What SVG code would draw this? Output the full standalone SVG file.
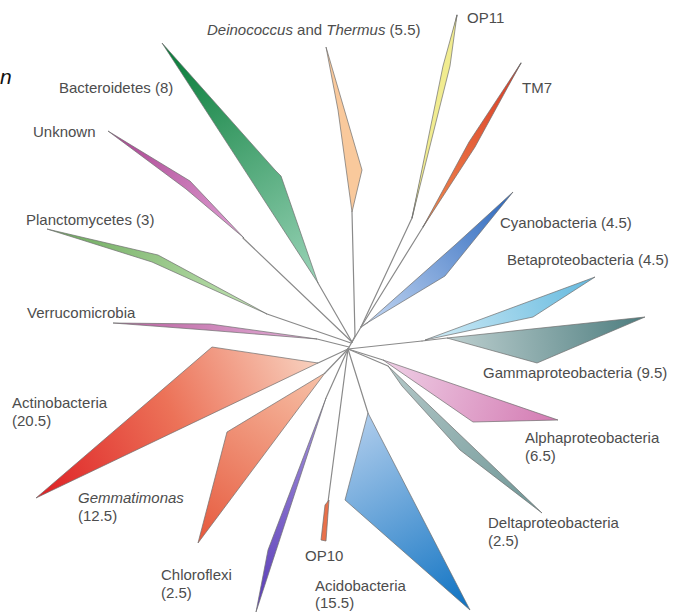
<svg xmlns="http://www.w3.org/2000/svg" width="674" height="615" viewBox="0 0 674 615">
<style>
.lbl{font-family:"Liberation Sans",Arial,sans-serif;font-size:15px;fill:#4d4d4d}
.it{font-style:italic}
.br{fill:none;stroke:#8a8a8a;stroke-width:1.2;stroke-linecap:round}
.wd{stroke:#6f6f6f;stroke-width:0.7;stroke-linejoin:round}
</style>
<defs>
<linearGradient id="gAct" gradientUnits="userSpaceOnUse" x1="40" y1="495" x2="318" y2="360"><stop offset="0" stop-color="#de2226"/><stop offset="0.5" stop-color="#ec7258"/><stop offset="1" stop-color="#f8d2c0"/></linearGradient>
<linearGradient id="gGem" gradientUnits="userSpaceOnUse" x1="198" y1="543" x2="325" y2="373"><stop offset="0" stop-color="#e6583c"/><stop offset="1" stop-color="#f7c2a8"/></linearGradient>
<linearGradient id="gChl" gradientUnits="userSpaceOnUse" x1="256" y1="612" x2="326" y2="398"><stop offset="0" stop-color="#5a3cb8"/><stop offset="1" stop-color="#a796dc"/></linearGradient>
<linearGradient id="gAci" gradientUnits="userSpaceOnUse" x1="470" y1="610" x2="360" y2="415"><stop offset="0" stop-color="#0e72c2"/><stop offset="1" stop-color="#b0cdec"/></linearGradient>
<linearGradient id="gDel" gradientUnits="userSpaceOnUse" x1="542" y1="513" x2="388" y2="366"><stop offset="0" stop-color="#6e9696"/><stop offset="1" stop-color="#b4c8c8"/></linearGradient>
<linearGradient id="gAlp" gradientUnits="userSpaceOnUse" x1="558" y1="420" x2="383" y2="360"><stop offset="0" stop-color="#d37ab2"/><stop offset="1" stop-color="#efd0e6"/></linearGradient>
<linearGradient id="gGam" gradientUnits="userSpaceOnUse" x1="645" y1="317" x2="447" y2="338"><stop offset="0" stop-color="#4c7c7e"/><stop offset="1" stop-color="#bed0d0"/></linearGradient>
<linearGradient id="gBet" gradientUnits="userSpaceOnUse" x1="595" y1="277" x2="425" y2="340"><stop offset="0" stop-color="#62b8de"/><stop offset="1" stop-color="#d2ecf6"/></linearGradient>
<linearGradient id="gCya" gradientUnits="userSpaceOnUse" x1="513" y1="192" x2="367" y2="323"><stop offset="0" stop-color="#2a66bc"/><stop offset="1" stop-color="#c2d6f2"/></linearGradient>
<linearGradient id="gTM7" gradientUnits="userSpaceOnUse" x1="521" y1="63" x2="423" y2="227"><stop offset="0" stop-color="#d93a26"/><stop offset="1" stop-color="#f08a50"/></linearGradient>
<linearGradient id="gBac" gradientUnits="userSpaceOnUse" x1="162" y1="43" x2="318" y2="283"><stop offset="0" stop-color="#047a36"/><stop offset="1" stop-color="#9ad4b8"/></linearGradient>
<linearGradient id="gUnk" gradientUnits="userSpaceOnUse" x1="108" y1="131" x2="244" y2="238"><stop offset="0" stop-color="#a8418f"/><stop offset="1" stop-color="#e0a0d4"/></linearGradient>
<linearGradient id="gPla" gradientUnits="userSpaceOnUse" x1="47" y1="229" x2="267" y2="314"><stop offset="0" stop-color="#6aa85a"/><stop offset="1" stop-color="#c6e6b8"/></linearGradient>
<linearGradient id="gVer" gradientUnits="userSpaceOnUse" x1="113" y1="323" x2="317" y2="339"><stop offset="0" stop-color="#b8609e"/><stop offset="1" stop-color="#e4b0d8"/></linearGradient>
</defs>

<text x="0" y="84" font-family="Liberation Sans, Arial, sans-serif" font-size="21" font-style="italic" fill="#111">n</text>

<g id="connectors">
<line class="br" x1="352" y1="342" x2="348" y2="349"/>
<line class="br" x1="318" y1="283" x2="352" y2="342"/>
<line class="br" x1="243" y1="238" x2="352" y2="342"/>
<line class="br" x1="267" y1="314" x2="351" y2="343"/>
<line class="br" x1="317" y1="339" x2="349" y2="347"/>
<line class="br" x1="352" y1="212" x2="355" y2="336"/>
<line class="br" x1="355" y1="336" x2="352" y2="342"/>
<line class="br" x1="457" y1="15" x2="412" y2="218"/>
<line class="br" x1="412" y1="218" x2="361" y2="327"/>
<line class="br" x1="521" y1="63" x2="423" y2="227"/>
<line class="br" x1="423" y1="227" x2="361" y2="327"/>
<line class="br" x1="367" y1="323" x2="361" y2="327"/>
<line class="br" x1="361" y1="327" x2="352" y2="342"/>
<line class="br" x1="348" y1="349" x2="422" y2="341"/>
<line class="br" x1="422" y1="341" x2="447" y2="338"/>
<line class="br" x1="348" y1="349" x2="383" y2="360"/>
<line class="br" x1="348" y1="349" x2="388" y2="366"/>
<line class="br" x1="348" y1="349" x2="368" y2="413"/>
<line class="br" x1="348" y1="349" x2="328" y2="502"/>
<line class="br" x1="348" y1="349" x2="326" y2="398"/>
<line class="br" x1="348" y1="349" x2="325" y2="373"/>
<line class="br" x1="348" y1="349" x2="318" y2="363"/>
</g>

<g id="bacteroidetes"><polygon class="wd" fill="url(#gBac)" points="162,43 275,170 281,176 318,283"/><text class="lbl" x="59" y="93">Bacteroidetes (8)</text></g>
<g id="unknown"><polygon class="wd" fill="url(#gUnk)" points="108,131 190,181 244,238 186,189"/><text class="lbl" x="33" y="137">Unknown</text></g>
<g id="planctomycetes"><polygon class="wd" fill="url(#gPla)" points="47,229 158,255 267,314 152,262"/><text class="lbl" x="26" y="225">Planctomycetes (3)</text></g>
<g id="verrucomicrobia"><polygon class="wd" fill="url(#gVer)" points="113,323 210,324 317,339 206,330"/><text class="lbl" x="27" y="318">Verrucomicrobia</text></g>
<g id="deinococcus"><polygon class="wd" fill="#f9c99c" points="326,47 362,170 352,212 338,110"/><text class="lbl" x="207" y="35"><tspan class="it">Deinococcus</tspan> and <tspan class="it">Thermus</tspan> (5.5)</text></g>
<g id="op11"><polygon class="wd" fill="#f1ec90" points="457,15 450,66 412,218 443,66"/><text class="lbl" x="467" y="23">OP11</text></g>
<g id="tm7"><polygon class="wd" fill="url(#gTM7)" points="521,63 475,147 423,227 469,142"/><text class="lbl" x="522" y="93">TM7</text></g>
<g id="cyanobacteria"><polygon class="wd" fill="url(#gCya)" points="513,192 445,276 367,323 455,245"/><text class="lbl" x="500" y="228">Cyanobacteria (4.5)</text></g>
<g id="betaproteobacteria"><polygon class="wd" fill="url(#gBet)" points="595,277 533,317 425,340"/><text class="lbl" x="507" y="265">Betaproteobacteria (4.5)</text></g>
<g id="gammaproteobacteria"><polygon class="wd" fill="url(#gGam)" points="447,338 645,317 537,363"/><text class="lbl" x="483" y="378">Gammaproteobacteria (9.5)</text></g>
<g id="alphaproteobacteria"><polygon class="wd" fill="url(#gAlp)" points="383,360 558,420 473,422"/><text class="lbl" x="525" y="443">Alphaproteobacteria</text><text class="lbl" x="525" y="461">(6.5)</text></g>
<g id="deltaproteobacteria"><polygon class="wd" fill="url(#gDel)" points="388,366 542,513 460,450 402,386"/><text class="lbl" x="488" y="528">Deltaproteobacteria</text><text class="lbl" x="488" y="546">(2.5)</text></g>
<g id="acidobacteria"><polygon class="wd" fill="url(#gAci)" points="368,413 470,610 345,500"/><text class="lbl" x="315" y="591">Acidobacteria</text><text class="lbl" x="315" y="608">(15.5)</text></g>
<g id="op10"><polygon class="wd" fill="#e8704a" points="329,500 326,541 321,540 325,505"/><text class="lbl" x="305" y="561">OP10</text></g>
<g id="chloroflexi"><polygon class="wd" fill="url(#gChl)" points="326,398 256,612 268,550"/><text class="lbl" x="161" y="580">Chloroflexi</text><text class="lbl" x="161" y="598">(2.5)</text></g>
<g id="gemmatimonas"><polygon class="wd" fill="url(#gGem)" points="325,373 227,432 198,543"/><text class="lbl it" x="78" y="503">Gemmatimonas</text><text class="lbl" x="78" y="521">(12.5)</text></g>
<g id="actinobacteria"><polygon class="wd" fill="url(#gAct)" points="212,347 318,363 36,498"/><text class="lbl" x="12" y="408">Actinobacteria</text><text class="lbl" x="12" y="426">(20.5)</text></g>
</svg>
